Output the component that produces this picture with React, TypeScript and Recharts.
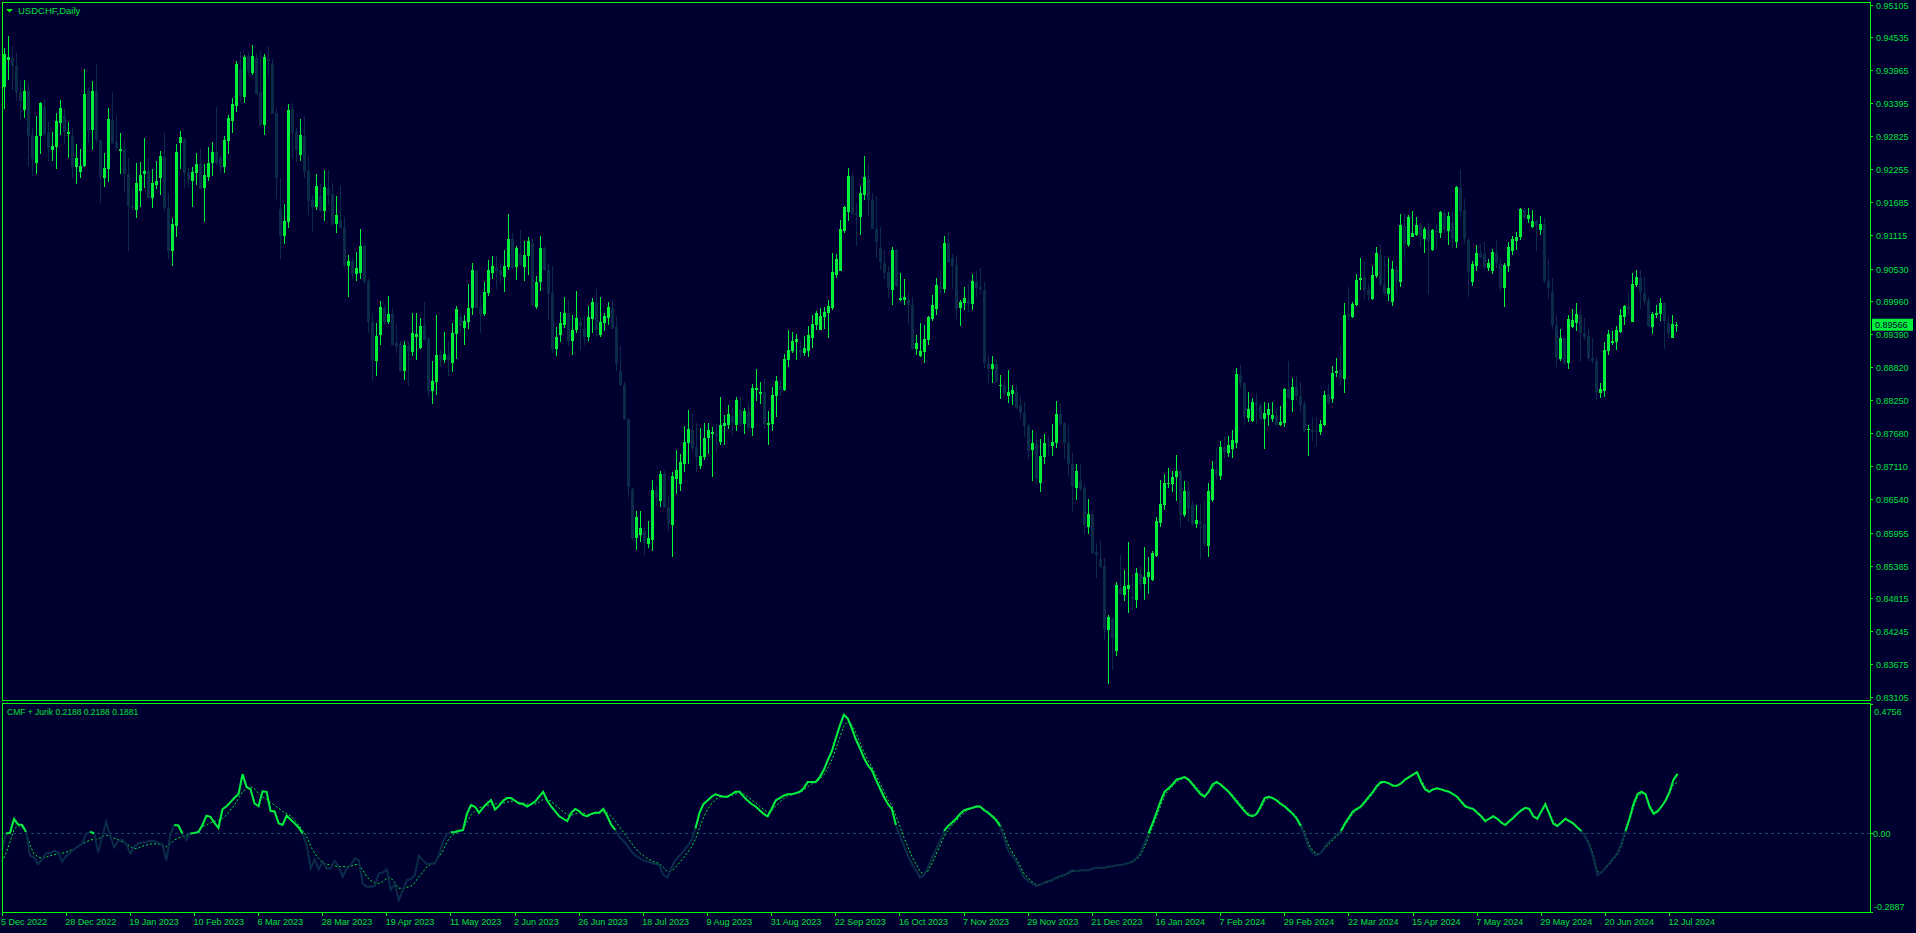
import { ComposedChart, Bar, Line, XAxis, YAxis, ReferenceLine } from "recharts";

// USDCHF daily candles, 5 Dec 2022 .. 15 Jul 2024
const opens = [0.9368,0.9416,0.9419,0.9405,0.9360,0.9328,0.9362,0.9285,0.9236,0.9284,0.9334,0.9289,0.9260,0.9265,0.9306,0.9318,0.9287,0.9284,0.9230,0.9221,0.9232,0.9361,0.9294,0.9362,0.9276,0.9211,0.9227,0.9312,0.9273,0.9257,0.9261,0.9218,0.9163,0.9156,0.9189,0.9217,0.9223,0.9176,0.9198,0.9210,0.9247,0.9159,0.9084,0.9127,0.9272,0.9279,0.9219,0.9206,0.9219,0.9235,0.9193,0.9213,0.9236,0.9256,0.9246,0.9229,0.9275,0.9309,0.9336,0.9400,0.9351,0.9422,0.9393,0.9419,0.9360,0.9303,0.9417,0.9408,0.9324,0.9157,0.9111,0.9135,0.9330,0.9290,0.9251,0.9284,0.9223,0.9173,0.9161,0.9180,0.9154,0.9193,0.9183,0.9131,0.9138,0.9126,0.9059,0.9067,0.9045,0.9047,0.9093,0.9033,0.8961,0.8893,0.8939,0.8985,0.8961,0.8976,0.8925,0.8924,0.8876,0.8919,0.8910,0.8935,0.8916,0.8956,0.8932,0.8842,0.8857,0.8905,0.8895,0.8905,0.8891,0.8941,0.8970,0.8951,0.8961,0.8985,0.9049,0.8988,0.8976,0.9012,0.9047,0.9055,0.9051,0.9040,0.9057,0.9105,0.9056,0.9079,0.9057,0.9075,0.9099,0.8988,0.9031,0.9089,0.9051,0.9012,0.8915,0.8939,0.8956,0.8977,0.8929,0.8947,0.8962,0.8949,0.8936,0.8967,0.8994,0.8938,0.8960,0.8968,0.8986,0.8953,0.8877,0.8852,0.8793,0.8672,0.8587,0.8592,0.8600,0.8576,0.8583,0.8668,0.8652,0.8698,0.8640,0.8609,0.8690,0.8680,0.8715,0.8751,0.8775,0.8745,0.8712,0.8727,0.8760,0.8768,0.8769,0.8754,0.8782,0.8783,0.8798,0.8783,0.8809,0.8785,0.8805,0.8778,0.8844,0.8837,0.8840,0.8783,0.8785,0.8834,0.8851,0.8844,0.8896,0.8911,0.8927,0.8913,0.8908,0.8911,0.8934,0.8956,0.8948,0.8970,0.8977,0.8986,0.9043,0.9050,0.9119,0.9152,0.9214,0.9151,0.9143,0.9181,0.9209,0.9173,0.9123,0.9089,0.9064,0.9048,0.9017,0.9086,0.9000,0.8999,0.9000,0.8991,0.8914,0.8902,0.8909,0.8930,0.8966,0.8983,0.9022,0.9018,0.9099,0.9072,0.9060,0.8985,0.8994,0.8997,0.8993,0.9030,0.9022,0.9017,0.8890,0.8880,0.8889,0.8850,0.8850,0.8834,0.8836,0.8840,0.8817,0.8803,0.8782,0.8739,0.8750,0.8683,0.8728,0.8750,0.8746,0.8751,0.8802,0.8786,0.8752,0.8716,0.8673,0.8686,0.8674,0.8606,0.8628,0.8563,0.8551,0.8538,0.8427,0.8447,0.8391,0.8498,0.8488,0.8499,0.8485,0.8480,0.8525,0.8508,0.8520,0.8514,0.8556,0.8614,0.8644,0.8681,0.8681,0.8692,0.8704,0.8627,0.8669,0.8645,0.8612,0.8617,0.8612,0.8574,0.8653,0.8707,0.8695,0.8744,0.8735,0.8742,0.8752,0.8870,0.8856,0.8795,0.8790,0.8821,0.8818,0.8794,0.8801,0.8794,0.8799,0.8783,0.8787,0.8846,0.8826,0.8849,0.8833,0.8820,0.8774,0.8774,0.8773,0.8771,0.8783,0.8837,0.8828,0.8873,0.8878,0.8863,0.8975,0.8970,0.8991,0.9034,0.9039,0.9017,0.9001,0.9041,0.9078,0.9027,0.9010,0.8996,0.9052,0.9031,0.9128,0.9095,0.9109,0.9112,0.9129,0.9105,0.9121,0.9086,0.9119,0.9116,0.9150,0.9119,0.9133,0.9100,0.9193,0.9155,0.9103,0.9031,0.9058,0.9081,0.9079,0.9055,0.9050,0.9081,0.9062,0.9020,0.9058,0.9084,0.9102,0.9109,0.9155,0.9140,0.9126,0.9136,0.9121,0.9131,0.9033,0.9013,0.8956,0.8897,0.8934,0.8891,0.8953,0.8960,0.8974,0.8942,0.8937,0.8899,0.8894,0.8839,0.8842,0.8911,0.8925,0.8927,0.8944,0.8970,0.8989,0.8962,0.9026,0.9038,0.9012,0.8999,0.8953,0.8974,0.8975,0.8994,0.8960,0.8934,0.8956];
const highs = [0.9436,0.9456,0.9439,0.9427,0.9381,0.9381,0.9375,0.9297,0.9318,0.9343,0.9348,0.9308,0.9291,0.9324,0.9346,0.9330,0.9308,0.9297,0.9270,0.9261,0.9400,0.9367,0.9379,0.9408,0.9276,0.9254,0.9332,0.9360,0.9318,0.9288,0.9277,0.9246,0.9194,0.9237,0.9238,0.9280,0.9246,0.9227,0.9240,0.9258,0.9289,0.9185,0.9142,0.9270,0.9292,0.9280,0.9228,0.9230,0.9254,0.9261,0.9235,0.9265,0.9273,0.9334,0.9251,0.9284,0.9320,0.9350,0.9414,0.9431,0.9424,0.9429,0.9441,0.9425,0.9430,0.9426,0.9440,0.9417,0.9332,0.9210,0.9166,0.9339,0.9340,0.9298,0.9313,0.9318,0.9247,0.9181,0.9218,0.9201,0.9225,0.9225,0.9202,0.9180,0.9197,0.9144,0.9078,0.9072,0.9083,0.9123,0.9097,0.9036,0.8977,0.8960,0.8998,0.8990,0.9006,0.8985,0.8956,0.8928,0.8928,0.8928,0.8977,0.8977,0.8968,0.8996,0.8935,0.8893,0.8974,0.8913,0.8944,0.8929,0.8959,0.8989,0.8977,0.8973,0.9027,0.9064,0.9052,0.9008,0.9031,0.9069,0.9075,0.9076,0.9063,0.9086,0.9149,0.9115,0.9093,0.9121,0.9101,0.9109,0.9107,0.9041,0.9111,0.9091,0.9062,0.9059,0.8952,0.8978,0.9004,0.9000,0.8974,0.9015,0.8970,0.8971,0.8989,0.9003,0.9019,0.9005,0.8977,0.8996,0.9000,0.8972,0.8920,0.8857,0.8795,0.8674,0.8634,0.8634,0.8607,0.8617,0.8688,0.8677,0.8704,0.8704,0.8660,0.8702,0.8740,0.8733,0.8782,0.8809,0.8802,0.8787,0.8778,0.8787,0.8786,0.8780,0.8785,0.8832,0.8801,0.8818,0.8813,0.8831,0.8832,0.8813,0.8821,0.8854,0.8880,0.8858,0.8863,0.8807,0.8849,0.8868,0.8861,0.8906,0.8948,0.8944,0.8941,0.8929,0.8937,0.8955,0.8974,0.8981,0.8986,0.8988,0.9000,0.9081,0.9079,0.9138,0.9162,0.9228,0.9219,0.9168,0.9197,0.9249,0.9235,0.9185,0.9180,0.9126,0.9086,0.9058,0.9091,0.9088,0.9046,0.9036,0.9011,0.9005,0.8938,0.8960,0.8956,0.8971,0.9008,0.9038,0.9052,0.9111,0.9115,0.9079,0.9076,0.8999,0.9022,0.9027,0.9044,0.9049,0.9055,0.9030,0.8905,0.8903,0.8897,0.8869,0.8859,0.8878,0.8852,0.8852,0.8831,0.8822,0.8785,0.8774,0.8771,0.8758,0.8768,0.8763,0.8785,0.8824,0.8819,0.8788,0.8783,0.8734,0.8715,0.8715,0.8681,0.8654,0.8636,0.8576,0.8583,0.8553,0.8453,0.8450,0.8511,0.8557,0.8531,0.8581,0.8525,0.8536,0.8539,0.8571,0.8555,0.8565,0.8624,0.8688,0.8698,0.8709,0.8704,0.8731,0.8705,0.8686,0.8686,0.8652,0.8645,0.8646,0.8652,0.8683,0.8721,0.8743,0.8756,0.8762,0.8764,0.8775,0.8882,0.8887,0.8858,0.8840,0.8830,0.8839,0.8821,0.8823,0.8821,0.8823,0.8813,0.8816,0.8847,0.8894,0.8865,0.8868,0.8858,0.8825,0.8783,0.8797,0.8797,0.8792,0.8842,0.8854,0.8885,0.8899,0.8920,0.8994,0.9022,0.8996,0.9045,0.9072,0.9065,0.9027,0.9058,0.9091,0.9097,0.9076,0.9072,0.9067,0.9058,0.9148,0.9148,0.9146,0.9154,0.9143,0.9133,0.9126,0.9133,0.9123,0.9131,0.9154,0.9157,0.9152,0.9154,0.9197,0.9225,0.9174,0.9107,0.9067,0.9095,0.9097,0.9100,0.9071,0.9088,0.9103,0.9072,0.9064,0.9100,0.9110,0.9117,0.9159,0.9159,0.9159,0.9155,0.9138,0.9145,0.9141,0.9071,0.9038,0.8974,0.8949,0.8936,0.8974,0.8984,0.8994,0.8984,0.8968,0.8949,0.8934,0.8901,0.8856,0.8927,0.8948,0.8946,0.8955,0.8984,0.8991,0.9012,0.9046,0.9052,0.9052,0.9041,0.9005,0.8979,0.8991,0.9003,0.8996,0.8972,0.8974,0.8962];
const lows = [0.9331,0.9381,0.9364,0.9344,0.9312,0.9314,0.9232,0.9215,0.9217,0.9253,0.9283,0.9240,0.9240,0.9227,0.9285,0.9269,0.9245,0.9210,0.9200,0.9210,0.9229,0.9272,0.9260,0.9272,0.9167,0.9195,0.9204,0.9269,0.9260,0.9218,0.9187,0.9085,0.9156,0.9141,0.9160,0.9193,0.9174,0.9158,0.9192,0.9182,0.9152,0.9070,0.9059,0.9109,0.9227,0.9193,0.9195,0.9161,0.9198,0.9191,0.9135,0.9206,0.9214,0.9233,0.9220,0.9219,0.9253,0.9289,0.9326,0.9340,0.9341,0.9390,0.9389,0.9355,0.9301,0.9286,0.9390,0.9321,0.9175,0.9071,0.9096,0.9124,0.9245,0.9239,0.9241,0.9210,0.9147,0.9118,0.9156,0.9152,0.9136,0.9164,0.9127,0.9116,0.9124,0.9056,0.9004,0.9036,0.9033,0.9036,0.9027,0.8943,0.8860,0.8867,0.8922,0.8956,0.8958,0.8921,0.8907,0.8874,0.8861,0.8851,0.8902,0.8896,0.8915,0.8929,0.8832,0.8820,0.8835,0.8884,0.8890,0.8868,0.8874,0.8898,0.8943,0.8921,0.8950,0.8974,0.8985,0.8942,0.8971,0.9006,0.9036,0.9019,0.9029,0.9014,0.9052,0.9053,0.9034,0.9059,0.9033,0.9043,0.8989,0.8984,0.9015,0.9050,0.8965,0.8907,0.8902,0.8926,0.8951,0.8920,0.8905,0.8943,0.8912,0.8922,0.8929,0.8943,0.8936,0.8936,0.8946,0.8956,0.8949,0.8876,0.8851,0.8792,0.8659,0.8583,0.8566,0.8581,0.8557,0.8569,0.8564,0.8643,0.8640,0.8639,0.8600,0.8555,0.8664,0.8668,0.8701,0.8716,0.8734,0.8702,0.8707,0.8723,0.8733,0.8692,0.8737,0.8749,0.8748,0.8776,0.8763,0.8773,0.8782,0.8768,0.8776,0.8763,0.8825,0.8820,0.8776,0.8748,0.8773,0.8797,0.8834,0.8841,0.8883,0.8907,0.8896,0.8899,0.8903,0.8901,0.8917,0.8948,0.8947,0.8949,0.8934,0.8982,0.9038,0.9049,0.9115,0.9137,0.9148,0.9093,0.9112,0.9173,0.9145,0.9122,0.9073,0.9052,0.9036,0.9003,0.8990,0.9022,0.8997,0.8991,0.8956,0.8912,0.8904,0.8901,0.8891,0.8921,0.8963,0.8973,0.9010,0.9012,0.9064,0.9019,0.8967,0.8954,0.8982,0.8979,0.8982,0.9004,0.9010,0.8882,0.8855,0.8855,0.8855,0.8828,0.8834,0.8821,0.8817,0.8811,0.8794,0.8762,0.8722,0.8686,0.8681,0.8667,0.8715,0.8730,0.8729,0.8743,0.8782,0.8724,0.8692,0.8632,0.8653,0.8669,0.8594,0.8594,0.8559,0.8517,0.8535,0.8410,0.8334,0.8358,0.8382,0.8488,0.8478,0.8458,0.8463,0.8466,0.8500,0.8480,0.8491,0.8513,0.8555,0.8607,0.8636,0.8674,0.8667,0.8652,0.8607,0.8624,0.8615,0.8608,0.8605,0.8551,0.8571,0.8554,0.8650,0.8690,0.8688,0.8726,0.8728,0.8726,0.8743,0.8847,0.8783,0.8788,0.8788,0.8785,0.8792,0.8742,0.8781,0.8788,0.8782,0.8782,0.8780,0.8828,0.8806,0.8826,0.8804,0.8771,0.8730,0.8756,0.8747,0.8766,0.8782,0.8820,0.8821,0.8866,0.8851,0.8839,0.8965,0.8968,0.8989,0.9017,0.8999,0.8999,0.8999,0.9038,0.9024,0.9008,0.8998,0.8989,0.9012,0.9022,0.9074,0.9091,0.9109,0.9110,0.9093,0.9081,0.9010,0.9084,0.9087,0.9107,0.9116,0.9095,0.9089,0.9090,0.9143,0.9097,0.9005,0.9024,0.9050,0.9071,0.9054,0.9050,0.9045,0.9055,0.9015,0.8988,0.9048,0.9078,0.9086,0.9103,0.9138,0.9133,0.9124,0.9084,0.9112,0.9029,0.9001,0.8949,0.8884,0.8894,0.8887,0.8880,0.8951,0.8946,0.8892,0.8930,0.8894,0.8889,0.8826,0.8830,0.8832,0.8904,0.8922,0.8913,0.8942,0.8956,0.8974,0.8962,0.9022,0.8984,0.8991,0.8953,0.8941,0.8968,0.8963,0.8915,0.8932,0.8934,0.8944];
const closes = [0.9426,0.9420,0.9405,0.9360,0.9345,0.9362,0.9284,0.9243,0.9284,0.9341,0.9287,0.9262,0.9267,0.9310,0.9332,0.9291,0.9291,0.9230,0.9246,0.9232,0.9357,0.9293,0.9362,0.9276,0.9213,0.9228,0.9313,0.9272,0.9262,0.9261,0.9218,0.9163,0.9158,0.9202,0.9216,0.9223,0.9176,0.9202,0.9206,0.9249,0.9159,0.9085,0.9131,0.9256,0.9282,0.9219,0.9208,0.9221,0.9235,0.9192,0.9216,0.9237,0.9256,0.9237,0.9229,0.9277,0.9314,0.9339,0.9408,0.9352,0.9420,0.9396,0.9422,0.9357,0.9303,0.9420,0.9414,0.9322,0.9210,0.9111,0.9137,0.9329,0.9289,0.9259,0.9285,0.9222,0.9171,0.9161,0.9197,0.9153,0.9195,0.9182,0.9131,0.9147,0.9125,0.9060,0.9067,0.9045,0.9055,0.9093,0.9030,0.8961,0.8895,0.8937,0.8988,0.8962,0.8976,0.8922,0.8920,0.8876,0.8921,0.8911,0.8943,0.8941,0.8955,0.8931,0.8842,0.8860,0.8905,0.8895,0.8906,0.8895,0.8943,0.8984,0.8955,0.8963,0.8986,0.9051,0.8986,0.8975,0.9014,0.9052,0.9059,0.9049,0.9043,0.9059,0.9105,0.9055,0.9089,0.9060,0.9078,0.9102,0.8990,0.9031,0.9089,0.9051,0.9010,0.8915,0.8936,0.8959,0.8977,0.8929,0.8948,0.8968,0.8955,0.8936,0.8970,0.8996,0.8948,0.8962,0.8972,0.8987,0.8949,0.8889,0.8852,0.8793,0.8675,0.8587,0.8624,0.8605,0.8578,0.8587,0.8670,0.8659,0.8698,0.8640,0.8611,0.8695,0.8705,0.8719,0.8754,0.8776,0.8743,0.8728,0.8730,0.8761,0.8775,0.8771,0.8764,0.8783,0.8787,0.8802,0.8786,0.8827,0.8785,0.8808,0.8778,0.8847,0.8847,0.8840,0.8785,0.8787,0.8835,0.8859,0.8844,0.8898,0.8913,0.8929,0.8932,0.8910,0.8917,0.8939,0.8958,0.8977,0.8972,0.8979,0.8989,0.9048,0.9071,0.9123,0.9161,0.9214,0.9148,0.9146,0.9185,0.9213,0.9173,0.9123,0.9100,0.9065,0.9047,0.9020,0.9086,0.9024,0.9003,0.9005,0.8991,0.8914,0.8925,0.8911,0.8932,0.8970,0.8991,0.9025,0.9018,0.9098,0.9066,0.9058,0.8984,0.8996,0.9003,0.8993,0.9032,0.9020,0.9018,0.8891,0.8880,0.8889,0.8858,0.8852,0.8837,0.8840,0.8844,0.8812,0.8803,0.8782,0.8738,0.8752,0.8690,0.8729,0.8751,0.8748,0.8753,0.8802,0.8784,0.8752,0.8716,0.8677,0.8703,0.8672,0.8610,0.8628,0.8561,0.8557,0.8537,0.8429,0.8450,0.8414,0.8506,0.8490,0.8504,0.8505,0.8482,0.8526,0.8508,0.8520,0.8529,0.8561,0.8617,0.8646,0.8683,0.8683,0.8693,0.8704,0.8627,0.8669,0.8638,0.8612,0.8619,0.8612,0.8577,0.8669,0.8707,0.8697,0.8745,0.8737,0.8749,0.8757,0.8872,0.8856,0.8797,0.8811,0.8823,0.8818,0.8794,0.8804,0.8811,0.8801,0.8783,0.8788,0.8846,0.8830,0.8849,0.8833,0.8818,0.8773,0.8776,0.8771,0.8771,0.8785,0.8835,0.8821,0.8873,0.8877,0.8864,0.8974,0.8972,0.8993,0.9034,0.9038,0.9017,0.9008,0.9043,0.9081,0.9026,0.9012,0.9020,0.9053,0.9033,0.9129,0.9097,0.9143,0.9116,0.9129,0.9111,0.9123,0.9101,0.9121,0.9118,0.9152,0.9121,0.9145,0.9105,0.9195,0.9154,0.9105,0.9048,0.9062,0.9081,0.9074,0.9057,0.9064,0.9083,0.9064,0.9020,0.9060,0.9091,0.9105,0.9109,0.9157,0.9142,0.9147,0.9136,0.9129,0.9131,0.9033,0.9020,0.8956,0.8899,0.8934,0.8891,0.8967,0.8965,0.8975,0.8942,0.8936,0.8899,0.8894,0.8840,0.8846,0.8913,0.8941,0.8929,0.8948,0.8974,0.8989,0.8982,0.9027,0.9039,0.9013,0.8998,0.8955,0.8975,0.8977,0.8994,0.8963,0.8942,0.8958,0.89566];

// CMF (solid) and its Jurik smoothing (dotted), one value per bar
const cmf = [-0.061,0.000,0.002,0.053,0.033,0.031,0.006,-0.082,-0.088,-0.113,-0.095,-0.073,-0.072,-0.064,-0.069,-0.104,-0.083,-0.070,-0.058,-0.047,-0.037,-0.002,0.006,0.000,-0.070,-0.012,0.043,-0.010,-0.051,-0.027,-0.024,-0.039,-0.073,-0.049,-0.037,-0.033,-0.031,-0.027,-0.028,-0.035,-0.039,-0.100,-0.004,0.031,0.029,0.000,-0.024,0.000,0.002,0.005,0.031,0.065,0.061,0.039,0.020,0.089,0.100,0.115,0.131,0.144,0.218,0.171,0.162,0.110,0.100,0.155,0.153,0.083,0.081,0.037,0.031,0.065,0.051,0.037,0.022,0.000,-0.043,-0.129,-0.095,-0.132,-0.104,-0.129,-0.129,-0.100,-0.122,-0.159,-0.129,-0.116,-0.092,-0.098,-0.184,-0.196,-0.196,-0.193,-0.147,-0.144,-0.132,-0.208,-0.186,-0.245,-0.208,-0.171,-0.168,-0.153,-0.082,-0.098,-0.113,-0.111,-0.110,-0.080,-0.031,-0.002,0.004,0.005,0.010,0.012,0.073,0.104,0.098,0.076,0.095,0.110,0.122,0.088,0.102,0.120,0.130,0.130,0.120,0.110,0.108,0.099,0.108,0.117,0.135,0.153,0.121,0.099,0.081,0.063,0.054,0.045,0.076,0.090,0.081,0.067,0.063,0.072,0.076,0.076,0.090,0.063,0.031,0.013,-0.013,-0.027,-0.045,-0.067,-0.081,-0.090,-0.099,-0.103,-0.108,-0.112,-0.117,-0.153,-0.162,-0.126,-0.099,-0.081,-0.067,-0.045,-0.027,0.018,0.076,0.108,0.121,0.135,0.144,0.139,0.135,0.135,0.144,0.153,0.153,0.135,0.121,0.108,0.099,0.085,0.072,0.063,0.090,0.121,0.130,0.139,0.144,0.144,0.148,0.153,0.166,0.189,0.189,0.189,0.207,0.233,0.269,0.301,0.350,0.395,0.436,0.422,0.386,0.346,0.314,0.278,0.251,0.233,0.198,0.166,0.135,0.108,0.090,0.031,-0.009,-0.045,-0.081,-0.112,-0.135,-0.162,-0.153,-0.126,-0.090,-0.058,-0.027,0.009,0.027,0.040,0.054,0.072,0.085,0.090,0.094,0.099,0.099,0.085,0.076,0.063,0.049,0.027,-0.018,-0.063,-0.081,-0.103,-0.135,-0.162,-0.175,-0.184,-0.193,-0.189,-0.180,-0.175,-0.171,-0.162,-0.157,-0.153,-0.144,-0.135,-0.139,-0.135,-0.135,-0.135,-0.130,-0.126,-0.126,-0.126,-0.121,-0.121,-0.117,-0.117,-0.112,-0.108,-0.103,-0.090,-0.072,-0.036,0.000,0.036,0.076,0.117,0.153,0.166,0.180,0.198,0.202,0.207,0.198,0.180,0.162,0.144,0.135,0.153,0.180,0.189,0.180,0.166,0.153,0.135,0.117,0.099,0.081,0.067,0.063,0.072,0.099,0.130,0.135,0.130,0.121,0.108,0.099,0.085,0.072,0.054,0.027,-0.009,-0.054,-0.072,-0.081,-0.072,-0.049,-0.031,-0.018,-0.004,0.009,0.036,0.058,0.081,0.090,0.099,0.117,0.135,0.153,0.175,0.189,0.189,0.184,0.175,0.175,0.184,0.198,0.207,0.216,0.225,0.189,0.162,0.153,0.162,0.166,0.162,0.157,0.153,0.144,0.135,0.117,0.099,0.094,0.090,0.076,0.063,0.045,0.054,0.063,0.054,0.040,0.031,0.045,0.058,0.072,0.085,0.094,0.090,0.063,0.054,0.081,0.108,0.072,0.036,0.027,0.040,0.054,0.045,0.036,0.022,0.009,-0.013,-0.045,-0.090,-0.153,-0.144,-0.126,-0.108,-0.090,-0.072,-0.036,0.009,0.054,0.108,0.144,0.153,0.144,0.099,0.072,0.081,0.099,0.121,0.153,0.198,0.2188];
const jurik = [-0.104,-0.073,-0.031,0.015,0.029,0.022,0.002,-0.043,-0.076,-0.086,-0.092,-0.087,-0.082,-0.078,-0.076,-0.073,-0.069,-0.062,-0.058,-0.049,-0.039,-0.031,-0.024,-0.022,-0.020,-0.012,-0.006,-0.012,-0.018,-0.023,-0.031,-0.037,-0.049,-0.056,-0.054,-0.047,-0.043,-0.039,-0.038,-0.039,-0.044,-0.049,-0.039,-0.024,-0.017,-0.012,-0.007,-0.002,0.000,0.007,0.024,0.032,0.039,0.044,0.049,0.055,0.067,0.086,0.104,0.129,0.153,0.164,0.171,0.164,0.147,0.135,0.125,0.115,0.103,0.093,0.081,0.073,0.064,0.049,0.031,0.012,-0.012,-0.047,-0.073,-0.092,-0.108,-0.113,-0.116,-0.119,-0.122,-0.122,-0.122,-0.120,-0.115,-0.113,-0.135,-0.159,-0.174,-0.181,-0.184,-0.177,-0.165,-0.162,-0.184,-0.201,-0.202,-0.198,-0.193,-0.181,-0.159,-0.141,-0.122,-0.113,-0.108,-0.086,-0.064,-0.031,-0.010,0.000,0.005,0.012,0.043,0.067,0.083,0.095,0.098,0.103,0.105,0.108,0.110,0.112,0.115,0.118,0.118,0.115,0.112,0.108,0.106,0.108,0.115,0.125,0.125,0.118,0.105,0.092,0.080,0.068,0.066,0.072,0.076,0.074,0.070,0.070,0.072,0.074,0.080,0.076,0.062,0.045,0.025,0.005,-0.015,-0.035,-0.055,-0.070,-0.082,-0.092,-0.100,-0.106,-0.111,-0.125,-0.140,-0.138,-0.125,-0.108,-0.090,-0.070,-0.050,-0.020,0.020,0.058,0.088,0.110,0.125,0.133,0.135,0.136,0.139,0.145,0.149,0.145,0.135,0.124,0.112,0.100,0.088,0.077,0.082,0.100,0.115,0.128,0.137,0.142,0.146,0.150,0.158,0.172,0.182,0.187,0.198,0.215,0.240,0.270,0.310,0.352,0.395,0.412,0.400,0.370,0.335,0.300,0.270,0.245,0.215,0.185,0.155,0.125,0.102,0.065,0.025,-0.015,-0.050,-0.085,-0.112,-0.140,-0.150,-0.138,-0.110,-0.078,-0.045,-0.012,0.012,0.030,0.045,0.062,0.076,0.086,0.091,0.096,0.098,0.090,0.080,0.068,0.055,0.035,0.000,-0.042,-0.068,-0.092,-0.120,-0.148,-0.165,-0.178,-0.188,-0.189,-0.183,-0.178,-0.173,-0.165,-0.160,-0.155,-0.148,-0.140,-0.139,-0.137,-0.136,-0.135,-0.132,-0.128,-0.127,-0.127,-0.123,-0.122,-0.118,-0.118,-0.114,-0.110,-0.106,-0.095,-0.080,-0.050,-0.015,0.022,0.060,0.100,0.138,0.158,0.173,0.190,0.198,0.204,0.200,0.186,0.170,0.152,0.140,0.148,0.170,0.183,0.181,0.170,0.158,0.142,0.125,0.107,0.090,0.075,0.067,0.070,0.090,0.118,0.130,0.130,0.124,0.113,0.103,0.090,0.077,0.060,0.035,0.002,-0.040,-0.063,-0.076,-0.073,-0.055,-0.038,-0.024,-0.010,0.003,0.028,0.050,0.072,0.085,0.095,0.110,0.128,0.146,0.168,0.183,0.188,0.185,0.178,0.176,0.182,0.194,0.204,0.213,0.222,0.198,0.172,0.158,0.161,0.164,0.162,0.158,0.155,0.147,0.138,0.122,0.105,0.097,0.092,0.080,0.067,0.050,0.052,0.060,0.056,0.044,0.034,0.042,0.054,0.068,0.081,0.091,0.090,0.068,0.057,0.075,0.100,0.080,0.045,0.031,0.038,0.050,0.046,0.038,0.026,0.012,-0.008,-0.038,-0.080,-0.140,-0.143,-0.130,-0.113,-0.095,-0.078,-0.045,0.000,0.045,0.095,0.132,0.148,0.144,0.108,0.080,0.082,0.097,0.117,0.145,0.180,0.1881];

const dateLabels = ["5 Dec 2022","28 Dec 2022","19 Jan 2023","10 Feb 2023","6 Mar 2023","28 Mar 2023","19 Apr 2023","11 May 2023","2 Jun 2023","26 Jun 2023","18 Jul 2023","9 Aug 2023","31 Aug 2023","22 Sep 2023","16 Oct 2023","7 Nov 2023","29 Nov 2023","21 Dec 2023","16 Jan 2024","7 Feb 2024","29 Feb 2024","22 Mar 2024","15 Apr 2024","7 May 2024","29 May 2024","20 Jun 2024","12 Jul 2024"];
const priceTicks = [0.95105,0.94535,0.93965,0.93395,0.92825,0.92255,0.91685,0.91115,0.90530,0.89960,0.89390,0.88820,0.88250,0.87680,0.87110,0.86540,0.85955,0.85385,0.84815,0.84245,0.83675,0.83105];
const cmfTicks = [0.4756, 0, -0.2887];

const BG = "#000030";
const FRAME = "#00ff00";
const BULL = "#00f03c";
const BEAR = "#0b2c48";
const TEXT = "#00e03c";
const ZERO = "#1a4a6a";
const FONT = "'Liberation Sans', Arial, sans-serif";

const SLOTS = 467; // chart keeps empty space on the right
const LABEL_EVERY = 16;
const lastClose = closes[closes.length - 1];

const rows = Array.from({ length: SLOTS }, (_, i) =>
  i < closes.length
    ? {
        i,
        o: opens[i],
        h: highs[i],
        l: lows[i],
        c: closes[i],
        cmf: cmf[i],
        cmfUp: cmf[i] >= 0 ? cmf[i] : null,
        jurik: jurik[i],
      }
    : { i }
);

function Candle(props: any) {
  const { x, y, height, payload } = props;
  if (!payload || payload.h == null || height == null) return null;
  const { o, h, l, c } = payload;
  const k = height / (h - l || 1);
  const py = (v: number) => y + (h - v) * k;
  const color = c >= o ? BULL : BEAR;
  const left = Math.round(x);
  const top = Math.round(py(Math.max(o, c)));
  const bot = Math.round(py(Math.min(o, c)));
  const wt = Math.round(py(h));
  const wb = Math.round(py(l));
  return (
    <g shapeRendering="crispEdges">
      <rect x={left + 2} y={wt} width={1} height={Math.max(1, wb - wt)} fill={color} />
      <rect x={left + 1} y={top} width={3} height={Math.max(1, bot - top)} fill={color} />
    </g>
  );
}

function PriceTick(props: any) {
  const { x, y, payload } = props;
  const v = payload.value;
  if (v === lastClose) {
    return (
      <g>
        <rect x={x + 2} y={y - 6} width={41} height={12} fill={BULL} />
        <text x={x + 5} y={y + 3.5} fill={BG} fontSize={9} fontFamily={FONT}>
          {v.toFixed(5)}
        </text>
      </g>
    );
  }
  return (
    <g>
      <line x1={x} x2={x + 3} y1={y} y2={y} stroke={FRAME} shapeRendering="crispEdges" />
      <text x={x + 6} y={y + 3.5} fill={TEXT} fontSize={9} fontFamily={FONT}>
        {v.toFixed(5)}
      </text>
    </g>
  );
}

function CmfTick(props: any) {
  const { x, y, payload } = props;
  const v = payload.value;
  const shift = v > 0 ? 7 : v < 0 ? -6 : 0;
  const label = v === 0 ? "0.00" : v.toFixed(4);
  return (
    <g>
      <line x1={x} x2={x + 3} y1={y} y2={y} stroke={FRAME} shapeRendering="crispEdges" />
      <text x={x + (v === 0 ? 3 : 4)} y={y + shift + 3.5} fill={TEXT} fontSize={9} fontFamily={FONT}>
        {label}
      </text>
    </g>
  );
}

function DateTick(props: any) {
  const { x, y, payload } = props;
  const idx = payload.value / LABEL_EVERY;
  if (!Number.isInteger(idx) || idx >= dateLabels.length) return null;
  return (
    <g>
      <line x1={x} x2={x} y1={y} y2={y + 4} stroke={FRAME} shapeRendering="crispEdges" />
      <text x={x - 1} y={y + 13} fill={TEXT} fontSize={9} fontFamily={FONT}>
        {dateLabels[idx]}
      </text>
    </g>
  );
}

export default function App() {
  return (
    <div
      style={{
        position: "absolute",
        left: 0,
        top: 0,
        width: 1916,
        height: 933,
        background: BG,
        overflow: "hidden",
        fontFamily: FONT,
      }}
    >
      <div style={{ position: "absolute", left: 0, top: 704 }}>
        <ComposedChart width={1916} height={229} data={rows} margin={{ top: 0, right: 0, bottom: 0, left: 2 }}>
          <XAxis
            dataKey="i"
            type="category"
            height={21}
            interval={LABEL_EVERY - 1}
            axisLine={false}
            tickLine={false}
            tickSize={0}
            tickMargin={0}
            tick={<DateTick />}
          />
          <YAxis
            orientation="right"
            width={46}
            domain={[-0.2887, 0.4756]}
            allowDataOverflow
            ticks={cmfTicks}
            interval={0}
            axisLine={false}
            tickLine={false}
            tickSize={0}
            tickMargin={0}
            tick={<CmfTick />}
          />
          <ReferenceLine y={0} stroke={ZERO} strokeDasharray="3 3" />
          <Line dataKey="jurik" stroke={BULL} strokeWidth={1} strokeDasharray="2 2" dot={false} isAnimationActive={false} />
          <Line dataKey="cmf" stroke={BEAR} strokeWidth={2} dot={false} isAnimationActive={false} />
          <Line dataKey="cmfUp" stroke={BULL} strokeWidth={2} dot={false} connectNulls={false} isAnimationActive={false} />
        </ComposedChart>
      </div>

      {/* main price panel: taller svg so the lowest price label is not clipped */}
      <div style={{ position: "absolute", left: 0, top: 0 }}>
        <ComposedChart width={1916} height={712} data={rows} margin={{ top: 5, right: 0, bottom: 14.3, left: 2 }} barCategoryGap={0}>
          <XAxis dataKey="i" type="category" hide />
          <YAxis
            orientation="right"
            width={46}
            domain={[0.83105, 0.95105]}
            allowDataOverflow
            ticks={[...priceTicks, lastClose]}
            interval={0}
            axisLine={false}
            tickLine={false}
            tickSize={0}
            tickMargin={0}
            tick={<PriceTick />}
          />
          <Bar dataKey={(d: any) => (d.h == null ? null : [d.l, d.h])} shape={Candle} isAnimationActive={false} />
        </ComposedChart>
      </div>

      {/* panel frames */}
      <div style={{ position: "absolute", left: 2, top: 2, width: 1869, height: 699, border: `1px solid ${FRAME}`, boxSizing: "border-box", pointerEvents: "none" }} />
      <div style={{ position: "absolute", left: 2, top: 703, width: 1869, height: 210, border: `1px solid ${FRAME}`, boxSizing: "border-box", pointerEvents: "none" }} />

      <svg style={{ position: "absolute", left: 0, top: 0 }} width={20} height={20}>
        <polygon points="6,9 13,9 9.5,12.5" fill={FRAME} />
      </svg>
      <div style={{ position: "absolute", left: 18, top: 5, fontSize: 9.5, color: TEXT, lineHeight: "12px" }}>USDCHF,Daily</div>
      <div style={{ position: "absolute", left: 7, top: 706, fontSize: 8.5, color: TEXT, lineHeight: "12px" }}>
        CMF + Jurik 0.2188 0.2188 0.1881
      </div>
    </div>
  );
}
